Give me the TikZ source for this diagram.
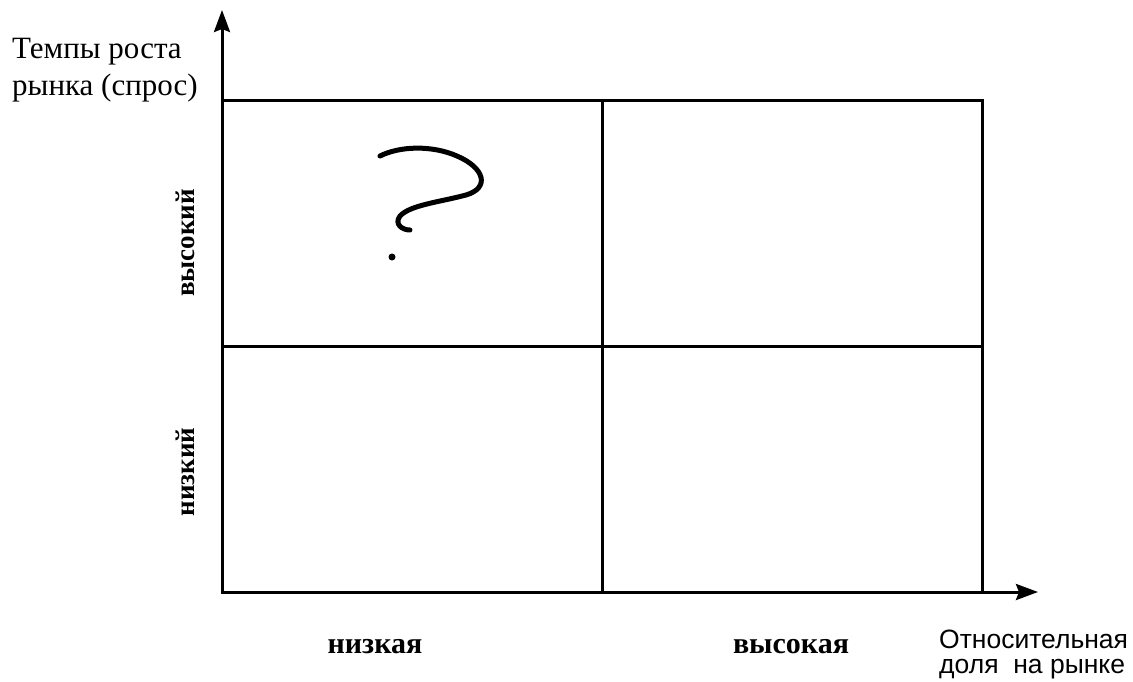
\documentclass[tikz,border=0pt]{standalone}
\usepackage{fontspec}
\setmainfont{Liberation Serif}
\setsansfont{Liberation Sans}
\usepackage{tikz}
\usetikzlibrary{arrows.meta, positioning}
\tikzstyle{cell} = [rectangle, draw=black, line width=3pt, minimum width=380pt, minimum height=246pt,
  inner sep=0pt, outer sep=0pt]
\tikzstyle{axis} = [line width=3pt, -{Stealth[length=22pt, width=16pt, inset=3pt]}]
\tikzstyle{levellabel} = [font=\fontsize{30}{34}\selectfont\bfseries, inner sep=0pt]
\tikzstyle{rowlabel} = [font=\fontsize{27}{30}\selectfont\bfseries, inner sep=0pt, rotate=90]
\tikzstyle{axislabel} = [font=\fontsize{31}{37}\selectfont, align=left, inner sep=0pt]

\begin{document}
\begin{tikzpicture}[x=1pt, y=-1pt]
  \useasboundingbox (0,0) rectangle (1133,681);

  % Axes
  \coordinate (origin) at (222,592);
  \coordinate (ytip) at (222,10);
  \coordinate (xtip) at (1038,592);

  % Matrix cells
  \node (hl) [cell, anchor=north west] at (222,100) {};
  \node (hh) [cell, right=0pt of hl] {};
  \node (ll) [cell, below=0pt of hl] {};
  \node (lh) [cell, below=0pt of hh] {};

  \draw[axis] (origin) -- (ytip);
  \draw[axis] (origin) -- (xtip);

  % Question mark
  \draw[line width=5pt, line cap=round, line join=round]
    (380,156) .. controls (400,146) and (432,145) .. (457,156)
    .. controls (485,168) and (490,188) .. (466,195)
    .. controls (440,202) and (410,205) .. (400,216)
    .. controls (394,224) and (402,230) .. (410,230);
  \fill (392,257) circle (3.5pt);

  % Row labels
  \node (high) [rowlabel] at (185,243) {высокий};
  \node (low) [rowlabel] at (185,472) {низкий};

  % Column labels
  \node (lowshare) [levellabel, anchor=base] at (375,653) {низкая};
  \node (highshare) [levellabel, anchor=base] at (791,653) {высокая};

  % Axis titles (base = last line)
  \node (growth) [axislabel, anchor=base west] at (12,95) {Темпы роста\\рынка (спрос)};
  \node (share) [axislabel, font=\sffamily\fontsize{26.5}{25}\selectfont, anchor=base west]
    at (939,673) {Относительная\\доля~~на рынке};
\end{tikzpicture}
\end{document}
